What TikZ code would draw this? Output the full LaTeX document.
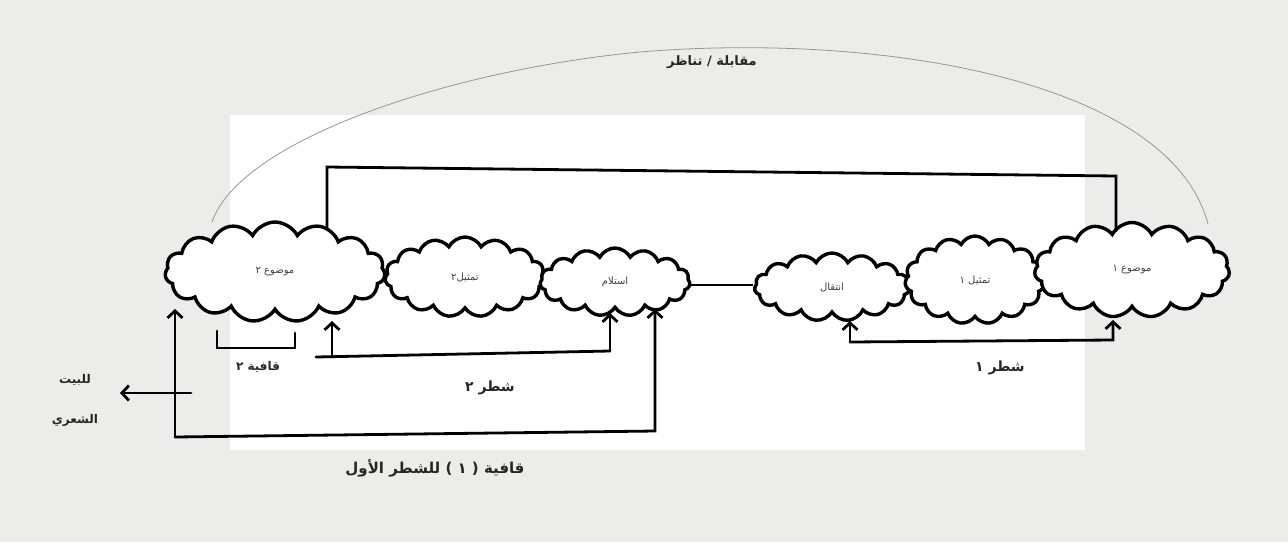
\documentclass[tikz,border=0pt]{standalone}
\usepackage{fontspec}
\newfontfamily\arabicfont[Script=Arabic]{DejaVu Sans}
\TeXXeTstate=1
\usetikzlibrary{shapes.symbols,arrows.meta}
\newcommand{\artxt}[1]{\arabicfont\beginR #1\endR}
\definecolor{paper}{RGB}{236,236,234}
\definecolor{arcgray}{RGB}{150,150,150}
\begin{document}
\begin{tikzpicture}[x=1pt,y=-1pt,
  blob/.style={cloud, cloud puffs=15, cloud puff arc=125, cloud ignores aspect, draw, line width=3.4pt, fill=white, inner sep=0pt, font=\fontsize{10}{12}\selectfont, text=black!75},
  wire/.style={line width=2.8pt, line cap=round},
  arr/.style={wire, -{Straight Barb[length=7pt,width=15pt]}},
  lab/.style={font=\fontsize{14}{16}\selectfont\bfseries, text=black!85},
  thinarc/.style={line width=0.8pt, arcgray}]
\useasboundingbox (0,0) rectangle (1288,542);
\fill[paper] (0,0) rectangle (1288,542);
\fill[white] (230,115) rectangle (1085,450);

% clouds
\node[blob, minimum width=220pt, minimum height=100pt] (m2) at (275,272) {\artxt{موضوع ٢}};
\node[blob, minimum width=160pt, minimum height=80pt] (t2) at (465,277) {\artxt{تمثيل٢}};
\node[blob, minimum width=150pt, minimum height=68pt] (is) at (615,282) {\artxt{استلام}};
\node[blob, minimum width=155pt, minimum height=68pt] (in) at (832,287) {\artxt{انتقال}};
\node[blob, minimum width=140pt, minimum height=88pt] (t1) at (975,280) {\artxt{تمثيل ١}};
\node[blob, minimum width=195pt, minimum height=95pt] (m1) at (1132,270) {\artxt{موضوع ١}};

% link between the halves
\draw[line width=1.4pt] (is.east |- 0,285) -- (in.west |- 0,285);

% top rectangle
\coordinate (tL) at (327,229);
\coordinate (tR) at (1116,231);
\draw[wire] (tL) -- (327,167) -- (1116,176) -- (tR);

% arc
\coordinate (aL) at (212,222);
\coordinate (aR) at (1208,224);
\coordinate (aTop) at (640,52);
\draw[thinarc] (aL) .. controls (240,140) and (450,70) .. (aTop)
  .. controls (880,32) and (1170,80) .. (aR);
\node[lab, font=\fontsize{13}{15}\selectfont\bfseries] (arcl) at (712,62) {\artxt{مقابلة / تناظر}};

% big bottom loop (second hemistich)
\coordinate (bA) at (175,309);
\coordinate (bB) at (655,309);
\draw[arr] (175,437) -- (bA);
\draw[arr] (175,437) -- (655,431) -- (bB);

% inner loop
\coordinate (iA) at (332,321);
\coordinate (iB) at (610,313);
\draw[arr] (332,357) -- (iA);
\draw[wire] (316,357) -- (610,351);
\draw[arr] (610,351) -- (iB);

% right loop (first hemistich)
\coordinate (rA) at (850,321);
\coordinate (rB) at (1113,320);
\draw[arr] (850,342) -- (rA);
\draw[arr] (850,342) -- (1113,340) -- (rB);

% rhyme bracket
\draw[wire] (217,331) -- (217,348) -- (295,348) -- (295,333);
\node[lab, font=\fontsize{12}{14}\selectfont\bfseries] (q2) at (258,367) {\artxt{قافية ٢}};

% arrow to the verse
\coordinate (vE) at (120,393);
\draw[arr] (191,393) -- (vE);
\node[lab, font=\fontsize{12}{14}\selectfont\bfseries] (v1) at (75,380) {\artxt{للبيت}};
\node[lab, font=\fontsize{12}{14}\selectfont\bfseries] (v2) at (75,420) {\artxt{الشعري}};

% labels
\node[lab] (s2) at (490,388) {\artxt{شطر ٢}};
\node[lab] (s1) at (1000,368) {\artxt{شطر ١}};
\node[lab, font=\fontsize{15}{17}\selectfont\bfseries] (q1) at (435,468) {\artxt{قافية ( ١ ) للشطر الأول}};
\end{tikzpicture}
\end{document}
